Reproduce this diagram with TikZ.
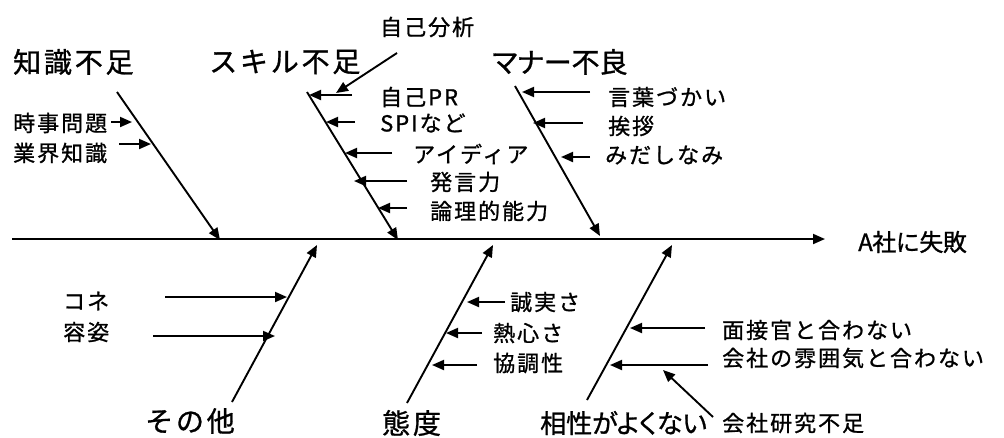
\documentclass[tikz,border=0pt]{standalone}
\usepackage{fontspec}
\setmainfont{Noto Sans CJK JP}
\newfontfamily\jbig[LetterSpace=10,FakeBold=1]{Noto Sans CJK JP}
\newfontfamily\jbigp[RawFeature=+palt,LetterSpace=0,FakeBold=1]{Noto Sans CJK JP}
\newfontfamily\jres[LetterSpace=-2,FakeBold=1]{Noto Sans CJK JP}
\newfontfamily\jsmall[LetterSpace=9,FakeBold=1]{Noto Sans CJK JP}
\usetikzlibrary{arrows.meta}
\tikzset{
  big/.style={font=\jbig\fontsize{28}{32}\selectfont, anchor=west, inner sep=0pt},
  bigp/.style={font=\jbigp\fontsize{28}{32}\selectfont, anchor=west, inner sep=0pt},
  result/.style={font=\jres\fontsize{24}{29}\selectfont, anchor=west, inner sep=0pt},
  small/.style={font=\jsmall\fontsize{22}{26}\selectfont, anchor=west, inner sep=0pt},
  bone/.style={line width=1.9pt, -{Triangle[length=12pt,width=10pt]}},
  sub/.style={line width=1.9pt, -{Triangle[length=12pt,width=10pt]}},
}
\begin{document}
\begin{tikzpicture}[x=1pt,y=-1pt]
\useasboundingbox (0,0) rectangle (1004,437);
% labels
\node[big] (kn) at (13,62) {知識不足};
\node[big] (sk) at (209,62) {スキル不足};
\node[bigp] (mn) at (492,62) {マナー不良};
\node[result] (res) at (858,242) {A社に失敗};
\node[big] (ot) at (145,421) {その他};
\node[big] (at) at (382,423) {態度};
\node[bigp, font=\jbigp\fontsize{26}{30}\selectfont] (co) at (540,423) {相性がよくない};
\node[small] (l1) at (13,123) {時事問題};
\node[small] (l2) at (13,153) {業界知識};
\node[small] (s0) at (380,27) {自己分析};
\node[small] (s1) at (380,97) {自己PR};
\node[small] (s2) at (380,123) {SPIなど};
\node[small] (s3) at (413,154) {アイディア};
\node[small] (s4) at (430,182) {発言力};
\node[small] (s5) at (430,211) {論理的能力};
\node[small] (m1) at (608,97) {言葉づかい};
\node[small] (m2) at (608,126) {挨拶};
\node[small] (m3) at (605,155) {みだしなみ};
\node[small] (o1) at (63,301) {コネ};
\node[small] (o2) at (63,332) {容姿};
\node[small] (a1) at (510,302) {誠実さ};
\node[small] (a2) at (493,333) {熱心さ};
\node[small] (a3) at (493,363) {協調性};
\node[small] (c1) at (722,330) {面接官と合わない};
\node[small] (c2) at (722,358) {会社の雰囲気と合わない};
\node[small] (c3) at (722,423) {会社研究不足};
% spine
\coordinate (sp0) at (12,239);
\coordinate (sp1) at (825,239);
\draw[bone] (sp0) -- (sp1);
% bones
\coordinate (kA) at (117,92);  \coordinate (kB) at (220,240);
\coordinate (sA) at (307,92);  \coordinate (sB) at (398,240);
\coordinate (mA) at (515,86);  \coordinate (mB) at (600,236);
\coordinate (oA) at (232,402); \coordinate (oB) at (317,245);
\coordinate (aA) at (407,403); \coordinate (aB) at (493,245);
\coordinate (cA) at (587,400); \coordinate (cB) at (672,245);
\draw[bone] (kA) -- (kB);
\draw[bone] (sA) -- (sB);
\draw[bone] (mA) -- (mB);
\draw[bone] (oA) -- (oB);
\draw[bone] (aA) -- (aB);
\draw[bone] (cA) -- (cB);
% sub arrows
\coordinate (l1a) at (111,122); \coordinate (l1b) at (132,122);
\coordinate (l2a) at (119,144); \coordinate (l2b) at (151,144);
\coordinate (s0a) at (397,53);  \coordinate (s0b) at (336,93);
\coordinate (s1a) at (352,95);  \coordinate (s1b) at (309,95);
\coordinate (s2a) at (355,122); \coordinate (s2b) at (326,122);
\coordinate (s3a) at (392,153); \coordinate (s3b) at (345,153);
\coordinate (s4a) at (407,181); \coordinate (s4b) at (354,181);
\coordinate (s5a) at (407,208); \coordinate (s5b) at (378,208);
\coordinate (m1a) at (590,92);  \coordinate (m1b) at (522,92);
\coordinate (m2a) at (583,123); \coordinate (m2b) at (533,123);
\coordinate (m3a) at (590,157); \coordinate (m3b) at (561,157);
\coordinate (o1a) at (165,297); \coordinate (o1b) at (287,297);
\coordinate (o2a) at (153,336); \coordinate (o2b) at (275,336);
\coordinate (a1a) at (505,302); \coordinate (a1b) at (467,302);
\coordinate (a2a) at (482,333); \coordinate (a2b) at (446,333);
\coordinate (a3a) at (477,365); \coordinate (a3b) at (432,365);
\coordinate (c1a) at (705,328); \coordinate (c1b) at (630,328);
\coordinate (c2a) at (708,365); \coordinate (c2b) at (610,365);
\coordinate (c3a) at (713,417); \coordinate (c3b) at (663,370);
\foreach \n in {l1,l2,s0,s1,s2,s3,s4,s5,m1,m2,m3,o1,o2,a1,a2,a3,c1,c2,c3}
  \draw[sub] (\n a) -- (\n b);
\end{tikzpicture}
\end{document}
